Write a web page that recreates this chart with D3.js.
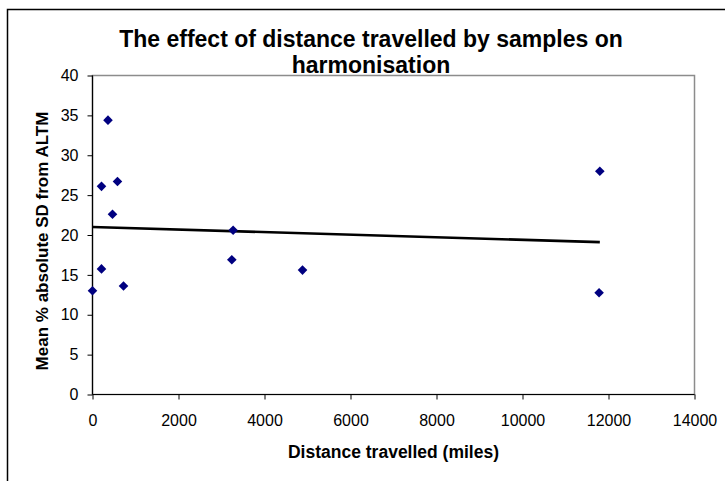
<!DOCTYPE html>
<html>
<head>
<meta charset="utf-8">
<script src="https://cdn.jsdelivr.net/npm/d3@7"></script>
<style>
  html, body { margin: 0; padding: 0; background: #fff; }
  svg { display: block; }
  text { font-family: "Liberation Sans", Arial, sans-serif; }
</style>
</head>
<body>
<svg id="chart" width="725" height="481"></svg>
<script>
// Data
const distanceMiles = [0, 209, 209, 360, 465, 581, 721, 3240, 3270, 4884, 11781, 11798];
const meanAbsSD     = [13.0, 15.75, 26.1, 34.4, 22.6, 26.7, 13.6, 16.9, 20.6, 15.6, 12.75, 28.0];
const xTickValues = [0, 2000, 4000, 6000, 8000, 10000, 12000, 14000];
const yTickValues = [0, 5, 10, 15, 20, 25, 30, 35, 40];
const titleLines = ["The effect of distance travelled by samples on", "harmonisation"];
const xTitle = "Distance travelled (miles)";
const yTitle = "Mean % absolute SD from ALTM";

const svg = d3.select("#chart");
const W = 725, H = 481;
const plot = { left: 92.5, right: 694.5, top: 75.5, bottom: 394.5 };

const x = d3.scaleLinear().domain([0, 14000]).range([plot.left, plot.right]);
const y = d3.scaleLinear().domain([0, 40]).range([plot.bottom, plot.top]);

// white background
svg.append("rect").attr("width", W).attr("height", H).attr("fill", "#fff");

// outer chart border (extends past the right/bottom edges)
svg.append("rect")
  .attr("x", 7.5).attr("y", 9.5)
  .attr("width", 760).attr("height", 520)
  .attr("fill", "none").attr("stroke", "#000").attr("stroke-width", 1.5);

// plot area border (grey top/right)
svg.append("rect")
  .attr("x", plot.left).attr("y", plot.top)
  .attr("width", plot.right - plot.left).attr("height", plot.bottom - plot.top)
  .attr("fill", "none").attr("stroke", "#8c8c8c").attr("stroke-width", 1.5);

// axes
const xAxis = d3.axisBottom(x).tickValues(xTickValues).tickSize(5).tickPadding(15).tickFormat(d3.format("d"));
const yAxis = d3.axisLeft(y).tickValues(yTickValues).tickSize(5).tickPadding(9).tickFormat(d3.format("d"));

const gx = svg.append("g").attr("transform", `translate(0,${plot.bottom})`).call(xAxis);
const gy = svg.append("g").attr("transform", `translate(${plot.left},0)`).call(yAxis);
[gx, gy].forEach(g => {
  g.selectAll(".domain").attr("stroke", "#000").attr("stroke-width", 1.2);
  g.selectAll(".tick line").attr("stroke", "#000").attr("stroke-width", 1);
  g.selectAll(".tick text").attr("fill", "#000").style("font-size", "16px")
    .style("font-family", '"Liberation Sans", Arial, sans-serif');
});
gx.select(".domain").attr("d", `M${plot.left},0H${plot.right}`);
gy.select(".domain").attr("d", `M0,${plot.bottom}V${plot.top}`);

// linear trend line (least squares on the data)
const n = distanceMiles.length;
const mx = d3.mean(distanceMiles), my = d3.mean(meanAbsSD);
let sxy = 0, sxx = 0;
for (let i = 0; i < n; i++) {
  sxy += (distanceMiles[i] - mx) * (meanAbsSD[i] - my);
  sxx += (distanceMiles[i] - mx) ** 2;
}
const slope = sxy / sxx, intercept = my - slope * mx;
const [x0, x1] = d3.extent(distanceMiles);
svg.append("line")
  .attr("x1", x(x0)).attr("y1", y(intercept + slope * x0))
  .attr("x2", x(x1)).attr("y2", y(intercept + slope * x1))
  .attr("stroke", "#000").attr("stroke-width", 2.6);

// diamond markers
const diamond = d3.symbol().type(d3.symbolSquare).size(46);
svg.append("g").selectAll("path")
  .data(distanceMiles.map((d, i) => [d, meanAbsSD[i]]))
  .join("path")
  .attr("d", diamond)
  .attr("transform", d => `translate(${x(d[0])},${y(d[1])}) rotate(45)`)
  .attr("fill", "#000080");

// title
const title = svg.append("text")
  .attr("text-anchor", "middle")
  .style("font-size", "23px").style("font-weight", "bold").attr("fill", "#000");
title.selectAll("tspan").data(titleLines).join("tspan")
  .attr("x", 371).attr("y", (d, i) => 47 + i * 26).text(d => d);

// axis titles
svg.append("text")
  .attr("x", (plot.left + plot.right) / 2).attr("y", 458)
  .attr("text-anchor", "middle")
  .style("font-size", "17.5px").style("font-weight", "bold").text(xTitle);

svg.append("text")
  .attr("transform", `translate(48,${(plot.top + plot.bottom) / 2 + 6}) rotate(-90)`)
  .attr("text-anchor", "middle")
  .style("font-size", "17px").style("font-weight", "bold").text(yTitle);
</script>
</body>
</html>
